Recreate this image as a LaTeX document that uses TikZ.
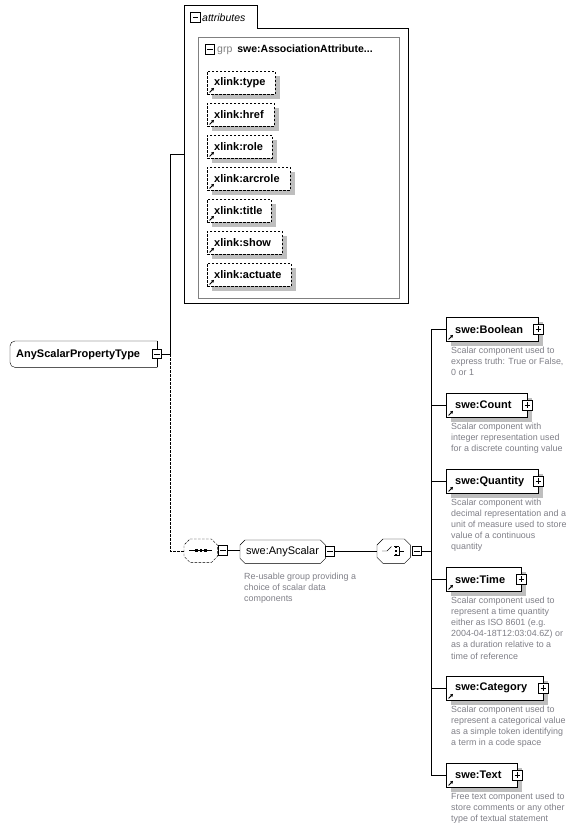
\documentclass[tikz,border=0pt]{standalone}
\usepackage{fontspec}
\setmainfont{Liberation Sans}
\usetikzlibrary{arrows.meta,calc}
\pgfdeclarelayer{bg}
\pgfdeclarelayer{back}
\pgfsetlayers{back,bg,main}
\definecolor{shgray}{RGB}{190,190,190}
\definecolor{descgray}{RGB}{128,128,136}
\definecolor{grpgray}{RGB}{128,128,128}

\newcommand\bx[8]{%
 \pgfmathsetmacro\bxw{#5-#3}\pgfmathsetmacro\bxh{#6-#4}%
 \node[#1, minimum width=\bxw pt, minimum height=\bxh pt, text width=\bxw pt,
   inner xsep=0pt, inner ysep=0pt, align=left, anchor=north west] (#2) at (#3,#4) {\hspace*{#7pt}#8};}
\newcommand\shadowof[1]{%
 \begin{pgfonlayer}{bg}\fill[shgray] ([shift={(5pt,-5pt)}]#1.south west) rectangle ([shift={(5pt,-5pt)}]#1.north east);\end{pgfonlayer}}
\newcommand\refarrow[1]{%
 \draw[line width=0.9pt,-{Triangle[length=2.6pt,width=3pt]}] ([xshift=2.5pt,yshift=2pt]#1.south west) -- ++(4.5pt,4.5pt);}
\newcommand\chamf[2]{% node, chamfer
 ([xshift=#2]#1.north west) -- ([xshift=-#2]#1.north east) -- ([yshift=-#2]#1.north east)
 -- ([yshift=#2]#1.south east) -- ([xshift=-#2]#1.south east) -- ([xshift=#2]#1.south west)
 -- ([yshift=#2]#1.south west) -- ([yshift=-#2]#1.north west) -- cycle}

\begin{document}
\begin{tikzpicture}[x=1pt,y=-1pt,line width=0.8pt,
  elbox/.style={draw,fill=white,font=\bfseries\fontsize{11}{13}\selectfont},
  attbox/.style={elbox,dash pattern=on 2.5pt off 1.5pt},
  plain/.style={font=\fontsize{11}{13}\selectfont},
  desc/.style={anchor=north west,inner sep=0pt,align=left,text=descgray,font=\fontsize{8.9}{11.2}\selectfont},
  pm/.style={draw,fill=white,minimum size=9.5pt,inner sep=0pt,line width=0.8pt},
  pmminus/.style={pm,path picture={\draw ([xshift=2pt]path picture bounding box.west) -- ([xshift=-2pt]path picture bounding box.east);}},
  pmplus/.style={pm,path picture={\draw ([xshift=2pt]path picture bounding box.west) -- ([xshift=-2pt]path picture bounding box.east);
     \draw ([yshift=-2pt]path picture bounding box.north) -- ([yshift=2pt]path picture bounding box.south);}}]
\begin{pgfonlayer}{back}
\fill[white] (0,0) rectangle (581,832);
\end{pgfonlayer}
\useasboundingbox (0,0) rectangle (581,832);

% ---- attributes container
\bx{draw=none}{attr}{184}{5}{408}{303}{0}{}
\draw (184,5) -- (257,5) -- (257,28) -- (408,28) -- (408,303) -- (184,303) -- cycle;
\node[pmminus] (attrm) at (195.5,17.5) {};
\node[anchor=west,inner sep=0pt,font=\itshape\fontsize{10.5}{12}\selectfont] (attrl) at (202,17.5) {attributes};

% ---- attribute group
\bx{draw=grpgray}{grp}{198}{37}{399}{298}{0}{}
\node[pmminus] (grpm) at (210,49.5) {};
\node[anchor=west,inner sep=0pt,font=\fontsize{10.5}{12}\selectfont] (grpl) at (217,49.5)
  {\textcolor{grpgray}{grp}\hspace{5pt}\textbf{swe:AssociationAttribute...}};

\bx{attbox}{xtype}{207}{71}{275}{94}{7}{xlink:type}
\bx{attbox}{xhref}{207}{103}{274}{126}{7}{xlink:href}
\bx{attbox}{xrole}{207}{135}{272}{158}{7}{xlink:role}
\bx{attbox}{xarc}{207}{167}{290}{190}{7}{xlink:arcrole}
\bx{attbox}{xtitle}{207}{199}{271}{222}{7}{xlink:title}
\bx{attbox}{xshow}{207}{231}{282}{254}{7}{xlink:show}
\bx{attbox}{xact}{207}{263}{291}{286}{7}{xlink:actuate}
\foreach \n in {xtype,xhref,xrole,xarc,xtitle,xshow,xact} {\refarrow{\n}\shadowof{\n}}

% ---- root type
\bx{draw=none,font=\bfseries\fontsize{11}{13}\selectfont}{aspt}{10}{341}{157}{367}{6}{AnyScalarPropertyType}
\begin{pgfonlayer}{bg}
 \fill[shgray,shift={(5pt,-5pt)}] ([xshift=5pt]aspt.north west) -- (aspt.north east) -- (aspt.south east) -- ([xshift=5pt]aspt.south west) -- cycle;
 \draw[fill=white,rounded corners=5pt] (aspt.north east) -- (aspt.north west) -- (aspt.south west) -- (aspt.south east);
 \draw (aspt.north east) -- (aspt.south east);
\end{pgfonlayer}
\node[pmminus] (asptm) at (157,354) {};

% ---- sequence
\bx{draw=none}{seq}{184}{539}{217}{562}{0}{}
\begin{pgfonlayer}{bg}
 \fill[shgray,shift={(5pt,-5pt)}] \chamf{seq}{6pt};
 \draw[fill=white,dash pattern=on 2.5pt off 1.5pt] \chamf{seq}{6pt};
\end{pgfonlayer}
\draw (189,550.5) -- (212,550.5);
\foreach \xx in {196.5,201,205.5} \fill (\xx-1.3,549.2) rectangle (\xx+1.3,551.8);
\node[pmminus] (seqm) at (223,550.5) {};

% ---- group AnyScalar
\bx{draw=none,plain}{anyscalar}{240}{540}{325}{563}{6}{swe:AnyScalar}
\begin{pgfonlayer}{bg}
 \fill[shgray,shift={(5pt,-5pt)}] \chamf{anyscalar}{5pt};
 \draw[fill=white] \chamf{anyscalar}{5pt};
\end{pgfonlayer}
\node[pmminus] (asm) at (330,551.5) {};
\node[desc] (asdesc) at (244,572.5) {Re-usable group providing a\\choice of scalar data\\components};

% ---- choice
\bx{draw=none}{choice}{377}{539}{410}{563}{0}{}
\begin{pgfonlayer}{bg}
 \fill[shgray,shift={(5pt,-5pt)}] \chamf{choice}{6pt};
 \draw[fill=white] \chamf{choice}{6pt};
\end{pgfonlayer}
\draw (382,551) -- (387,551) -- (391.5,546.5);
\draw (394,546.5) -- (399,546.5) (394,555.5) -- (399,555.5) (399,546.5) -- (399,555.5) (399,551) -- (404,551);
\foreach \yy in {547,551,555} \fill (394.5,\yy-1.3) rectangle (397,\yy+1.3);
\node[pmminus] (chm) at (417,551) {};

% ---- elements
\bx{elbox}{bool}{446}{317}{538}{341}{9}{swe:Boolean}
\bx{elbox}{count}{446}{393}{527}{417}{9}{swe:Count}
\bx{elbox}{quant}{446}{469}{538}{493}{9}{swe:Quantity}
\bx{elbox}{time}{446}{567}{521}{591}{9}{swe:Time}
\bx{elbox}{cat}{446}{676}{543}{700}{9}{swe:Category}
\bx{elbox}{txt}{446}{763}{517}{787}{9}{swe:Text}
\foreach \n in {bool,count,quant,time,cat,txt} {\shadowof{\n}\refarrow{\n}\node[pmplus] (\n p) at (\n.east) {};}

\node[desc] (booldesc) at (451,346.5) {Scalar component used to\\express truth: True or False,\\0 or 1};
\node[desc] (countdesc) at (451,422.5) {Scalar component with\\integer representation used\\for a discrete counting value};
\node[desc] (quantdesc) at (451,498.5) {Scalar component with\\decimal representation and a\\unit of measure used to store\\value of a continuous\\quantity};
\node[desc] (timedesc) at (451,596.5) {Scalar component used to\\represent a time quantity\\either as ISO 8601 (e.g.\\2004-04-18T12:03:04.6Z) or\\as a duration relative to a\\time of reference};
\node[desc] (catdesc) at (451,705.5) {Scalar component used to\\represent a categorical value\\as a simple token identifying\\a term in a code space};
\node[desc] (txtdesc) at (451,792.5) {Free text component used to\\store comments or any other\\type of textual statement};

% ---- connectors
\coordinate (j1) at (170,354);
\coordinate (j2) at (431,551);
\draw (asptm.east) -- (j1) |- (attr.west);
\draw[dash pattern=on 2.5pt off 1.5pt] (j1) |- (seq.west);
\draw (seqm.east) -- (anyscalar.west |- seqm.east);
\draw (asm.east) -- (choice.west |- asm.east);
\draw (chm.east) -- (j2);
\foreach \n in {bool,count,quant,time,cat,txt} {\draw (j2) |- (\n.west);}
\end{tikzpicture}
\end{document}
